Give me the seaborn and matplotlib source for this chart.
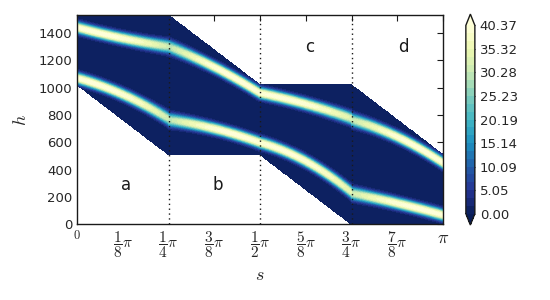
import numpy as np
import matplotlib
matplotlib.use('Agg')
import matplotlib.pyplot as plt
import seaborn as sns

PI = np.pi

# segment borders along s and the region names
seg_edges = [0, PI / 4, PI / 2, 3 * PI / 4, PI]
seg_names = ['a', 'b', 'c', 'd']
name_s = [0.42, 1.21, 2.0, 2.8]
name_h = [290, 290, 1300, 1300]

# domain limits in h at the start / end of each segment
lower_start = [1020, 510, 510, 0]
lower_end = [510, 510, 0, 0]
upper_start = [1530, 1530, 1020, 1020]
upper_end = [1530, 1020, 1020, 510]

# ridge centres (start, middle, end of each segment)
ridge_hi = [[1440, 1360, 1300], [1300, 1150, 960], [960, 880, 775], [765, 640, 450]]
ridge_lo = [[1069, 950, 772], [765, 700, 598], [598, 462, 235], [228, 155, 69]]
# ridge peak heights (start, middle, end of each segment)
amp_hi = [[40.37, 40.0, 31.0], [29.0, 40.0, 40.0], [40.0, 40.0, 33.0], [30.0, 40.0, 40.37]]
amp_lo = [[40.37, 40.0, 31.0], [29.0, 40.0, 40.0], [40.0, 40.0, 34.0], [31.0, 40.0, 40.37]]
ridge_sigma = 28.0

vmax = 40.37
h_max = 1530
cbar_ticks = [0.00, 5.05, 10.09, 15.14, 20.19, 25.23, 30.28, 35.32, 40.37]
xtick_vals = [0, PI / 8, PI / 4, 3 * PI / 8, PI / 2, 5 * PI / 8, 3 * PI / 4, 7 * PI / 8, PI]
xtick_labels = [r'$0$', r'$\dfrac{1}{8}\pi$', r'$\dfrac{1}{4}\pi$', r'$\dfrac{3}{8}\pi$',
                r'$\dfrac{1}{2}\pi$', r'$\dfrac{5}{8}\pi$', r'$\dfrac{3}{4}\pi$',
                r'$\dfrac{7}{8}\pi$', r'$\pi$']
ytick_vals = [0, 200, 400, 600, 800, 1000, 1200, 1400]


def quad(pts, t):
    return np.polyval(np.polyfit([0, 0.5, 1], pts, 2), t)


def build_field():
    s = np.linspace(0, PI, 720)
    h = np.linspace(0, h_max, 520)
    S, H = np.meshgrid(s, h)
    Z = np.zeros_like(S)
    inside = np.zeros_like(S, dtype=bool)
    for i in range(4):
        s0, s1 = seg_edges[i], seg_edges[i + 1]
        cols = (s >= s0) & (s <= s1)
        t = (s[cols] - s0) / (s1 - s0)
        lo = lower_start[i] + t * (lower_end[i] - lower_start[i])
        hi = upper_start[i] + t * (upper_end[i] - upper_start[i])
        Hc = H[:, cols]
        z = np.zeros_like(Hc)
        for ridge, amp in [(ridge_hi[i], amp_hi[i]), (ridge_lo[i], amp_lo[i])]:
            c = quad(ridge, t)
            a = quad(amp, t)
            w = ridge_sigma * np.sqrt(vmax / a)  # dimmer parts of the ridge are wider
            z += a * np.exp(-0.5 * np.abs((Hc - c) / w) ** 2.2)
        Z[:, cols] = z
        inside[:, cols] = (Hc >= lo - 1) & (Hc <= hi + 1)
    return S, H, np.ma.masked_where(~inside, Z)


sns.set_theme(style='white')
plt.rcParams['font.family'] = ['DejaVu Sans']
plt.rcParams['mathtext.fontset'] = 'cm'

S, H, Z = build_field()
cmap = sns.color_palette('YlGnBu_r', as_cmap=True)
levels = np.linspace(0, vmax, 25)

fig = plt.figure(figsize=(5.5, 3.0), dpi=100)
ax = fig.add_axes([0.14, 0.2517, 0.6655, 0.698])
cax = fig.add_axes([0.847, 0.25, 0.0164, 0.703])

cf = ax.contourf(S, H, Z, levels=levels, cmap=cmap, extend='both')
for x in seg_edges[1:-1]:
    ax.axvline(x, color='k', linestyle=(0, (1, 2.5)), lw=1)
for name, xs, ys in zip(seg_names, name_s, name_h):
    ax.text(xs, ys, name, ha='center', va='center', fontsize=12, color='k')

ax.set_xlim(0, PI)
ax.set_ylim(0, h_max)
ax.set_xticks(xtick_vals)
ax.set_xticklabels(xtick_labels, fontsize=11)
xt = ax.get_xticklabels()
xt[0].set_fontsize(9)
xt[-1].set_fontsize(13)
ax.set_yticks(ytick_vals)
ax.tick_params(axis='y', labelsize=9.5)
ax.tick_params(direction='in', top=True, right=True, length=4, width=0.8, color='k')
ax.set_xlabel(r'$s$', fontsize=13, labelpad=4)
ax.set_ylabel(r'$h$', fontsize=13, labelpad=6)
for sp in ax.spines.values():
    sp.set_color('k')
    sp.set_linewidth(1)

cb = fig.colorbar(cf, cax=cax, ticks=cbar_ticks, extendfrac=0.06)
cb.ax.set_yticklabels(['%.2f' % v for v in cbar_ticks])
cb.ax.tick_params(direction='in', length=4, width=0.8, labelsize=9.5, color='k')
cb.outline.set_edgecolor('k')
cb.outline.set_linewidth(1)

fig.savefig('out.png', dpi=100, facecolor='white')
